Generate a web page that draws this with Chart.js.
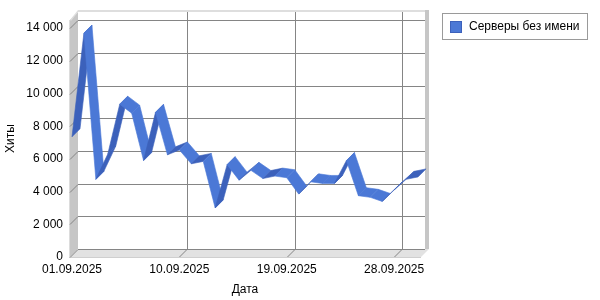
<!DOCTYPE html>
<html>
<head>
<meta charset="utf-8">
<script src="https://cdn.jsdelivr.net/npm/chart.js@4.4.1/dist/chart.umd.min.js"></script>
<style>
  html, body { margin: 0; padding: 0; background: #fff; }
</style>
</head>
<body>
<canvas id="myChart" width="600" height="300"></canvas>
<script>
// Dates on the x axis
const dates = [
  '01.09.2025', '02.09.2025', '03.09.2025', '04.09.2025', '05.09.2025',
  '06.09.2025', '07.09.2025', '08.09.2025', '09.09.2025', '10.09.2025',
  '11.09.2025', '12.09.2025', '13.09.2025', '14.09.2025', '15.09.2025',
  '16.09.2025', '17.09.2025', '18.09.2025', '19.09.2025', '20.09.2025',
  '21.09.2025', '22.09.2025', '23.09.2025', '24.09.2025', '25.09.2025',
  '26.09.2025', '27.09.2025', '28.09.2025', '29.09.2025', '30.09.2025'
];

// Hits per day
const hits = [
  7350, 13700, 4750, 6300, 9350, 8800, 5900, 8850, 6250, 6550,
  5700, 5850, 3000, 5650, 4700, 5300, 4800, 4950, 4850, 3850,
  4600, 4500, 4500, 5900, 3750, 3650, 3400, 4100, 4750, 4900
];

const seriesName = 'Серверы без имени';
const yTicks = [0, 2000, 4000, 6000, 8000, 10000, 12000, 14000];
const labelEvery = 9; // only every 9th date gets a label

const FONT = 'Liberation Sans, Arial, sans-serif';
const DX = 8, DY = 8;          // 3D depth offset
const LIGHT = '#4b78d6';       // top face of the ribbon
const DARK = '#3c61bb';        // under face of the ribbon

const fmt = v => String(v).replace(/\B(?=(\d{3})+(?!\d))/g, ' ');

function poly(ctx, pts) {
  ctx.beginPath();
  ctx.moveTo(pts[0][0], pts[0][1]);
  for (let i = 1; i < pts.length; i++) ctx.lineTo(pts[i][0], pts[i][1]);
  ctx.closePath();
}

// walls, floor and grid of the 3D box
const frame3d = {
  id: 'frame3d',
  beforeDatasetsDraw(chart) {
    const { ctx, chartArea: a, scales: { x, y } } = chart;
    const fl = a.left - 2, fb = a.bottom, ft = a.top, fr = a.right;
    const bl = fl + DX, bb = fb - DY, bt = ft - DY, br = fr + 7;
    ctx.save();

    // left wall
    ctx.fillStyle = '#c6c6c6';
    poly(ctx, [[fl, ft], [bl, bt], [bl, bb], [fl, fb]]);
    ctx.fill();
    ctx.strokeStyle = '#dcdcdc';
    ctx.lineWidth = 1;
    ctx.beginPath();
    ctx.moveTo(fl - 0.5, ft); ctx.lineTo(fl - 0.5, fb + 1);
    ctx.stroke();

    // floor
    ctx.fillStyle = '#e2e2e2';
    poly(ctx, [[fl, fb], [bl, bb], [br + 4, bb], [br + 4 - DX, fb]]);
    ctx.fill();
    ctx.strokeStyle = '#cfcfcf';
    ctx.beginPath();
    ctx.moveTo(fl, fb + 0.5); ctx.lineTo(br + 4 - DX, fb + 0.5);
    ctx.stroke();

    // right wall edge and top edge
    ctx.fillStyle = '#c6c6c6';
    ctx.fillRect(br, bt - 2, 4, bb - bt + 2);
    ctx.fillStyle = '#dedede';
    ctx.fillRect(bl, bt - 2, br - bl, 2);
    poly(ctx, [[fl, ft], [bl, bt - 2], [bl, bt], [fl + 1, ft + 1]]);
    ctx.fill();

    // horizontal grid on back wall and left wall
    ctx.strokeStyle = '#858585';
    ctx.lineWidth = 1;
    yTicks.forEach(v => {
      const py = Math.round(y.getPixelForValue(v)) + 0.5;
      ctx.beginPath();
      ctx.moveTo(fl, py);
      ctx.lineTo(bl, py - DY);
      ctx.lineTo(br, py - DY);
      ctx.stroke();
    });

    // vertical grid for labelled dates
    dates.forEach((d, i) => {
      if (i === 0 || i % labelEvery) return;
      const px = Math.round(x.getPixelForValue(i)) + 0.5;
      ctx.beginPath();
      ctx.moveTo(px, fb);
      ctx.lineTo(px + DX, bb);
      ctx.lineTo(px + DX, bt);
      ctx.stroke();
    });
    ctx.restore();
  }
};

// extruded ribbon for the line
const ribbon = {
  id: 'ribbon',
  afterDatasetsDraw(chart) {
    const ctx = chart.ctx;
    const pts = chart.getDatasetMeta(0).data;
    ctx.save();
    for (let i = 0; i < pts.length - 1; i++) {
      const p = pts[i], q = pts[i + 1];
      const col = q.y < p.y ? DARK : LIGHT;
      poly(ctx, [[p.x, p.y], [q.x, q.y], [q.x + DX, q.y - DY], [p.x + DX, p.y - DY]]);
      ctx.fillStyle = col;
      ctx.strokeStyle = col;
      ctx.lineWidth = 0.6;
      ctx.fill();
      ctx.stroke();
    }
    ctx.restore();
  }
};

// boxed legend at the top right
const legendBox = {
  id: 'legendBox',
  afterDraw(chart) {
    const ctx = chart.ctx;
    ctx.save();
    ctx.fillStyle = '#fff';
    ctx.fillRect(442, 13, 145, 26);
    ctx.strokeStyle = '#9a9a9a';
    ctx.lineWidth = 1;
    ctx.strokeRect(442.5, 13.5, 145, 26);
    ctx.fillStyle = LIGHT;
    ctx.fillRect(450, 21, 12, 12);
    ctx.strokeStyle = DARK;
    ctx.strokeRect(450.5, 21.5, 11, 11);
    ctx.fillStyle = '#000';
    ctx.font = '12px ' + FONT;
    ctx.textBaseline = 'middle';
    ctx.fillText(chart.data.datasets[0].label, 469, 27);
    ctx.restore();
  }
};

const ctx = document.getElementById('myChart').getContext('2d');

const myChart = new Chart(ctx, {
  type: 'line',
  data: {
    labels: dates,
    datasets: [{
      label: seriesName,
      data: hits,
      borderColor: 'rgba(0,0,0,0)',
      backgroundColor: LIGHT,
      borderWidth: 0,
      pointRadius: 0,
      fill: false
    }]
  },
  options: {
    responsive: false,
    animation: false,
    layout: { padding: { top: 20, right: 182, left: 0, bottom: 0 } },
    plugins: {
      legend: { display: false },
      tooltip: { enabled: false }
    },
    scales: {
      x: {
        grid: { display: false, drawTicks: false },
        border: { display: false },
        ticks: {
          autoSkip: false,
          maxRotation: 0,
          padding: 5,
          color: '#000',
          font: { family: FONT, size: 12 },
          callback: function (v, i) {
            return i % labelEvery === 0 ? this.getLabelForValue(v) : '';
          }
        },
        title: {
          display: true,
          text: 'Дата',
          color: '#000',
          font: { family: FONT, size: 12 },
          padding: { top: 0, bottom: 3 }
        },
        afterFit: s => { s.height = 43; }
      },
      y: {
        min: 0,
        max: 14500,
        grid: { display: false, drawTicks: false },
        border: { display: false },
        afterBuildTicks: s => { s.ticks = yTicks.map(v => ({ value: v })); },
        ticks: {
          padding: 9,
          color: '#000',
          font: { family: FONT, size: 12 },
          callback: v => fmt(v)
        },
        title: {
          display: true,
          text: 'Хиты',
          color: '#000',
          font: { family: FONT, size: 12 },
          padding: { top: 3, bottom: 0 }
        },
        afterFit: s => { s.width = 72; }
      }
    }
  },
  plugins: [frame3d, ribbon, legendBox]
});
</script>
</body>
</html>
